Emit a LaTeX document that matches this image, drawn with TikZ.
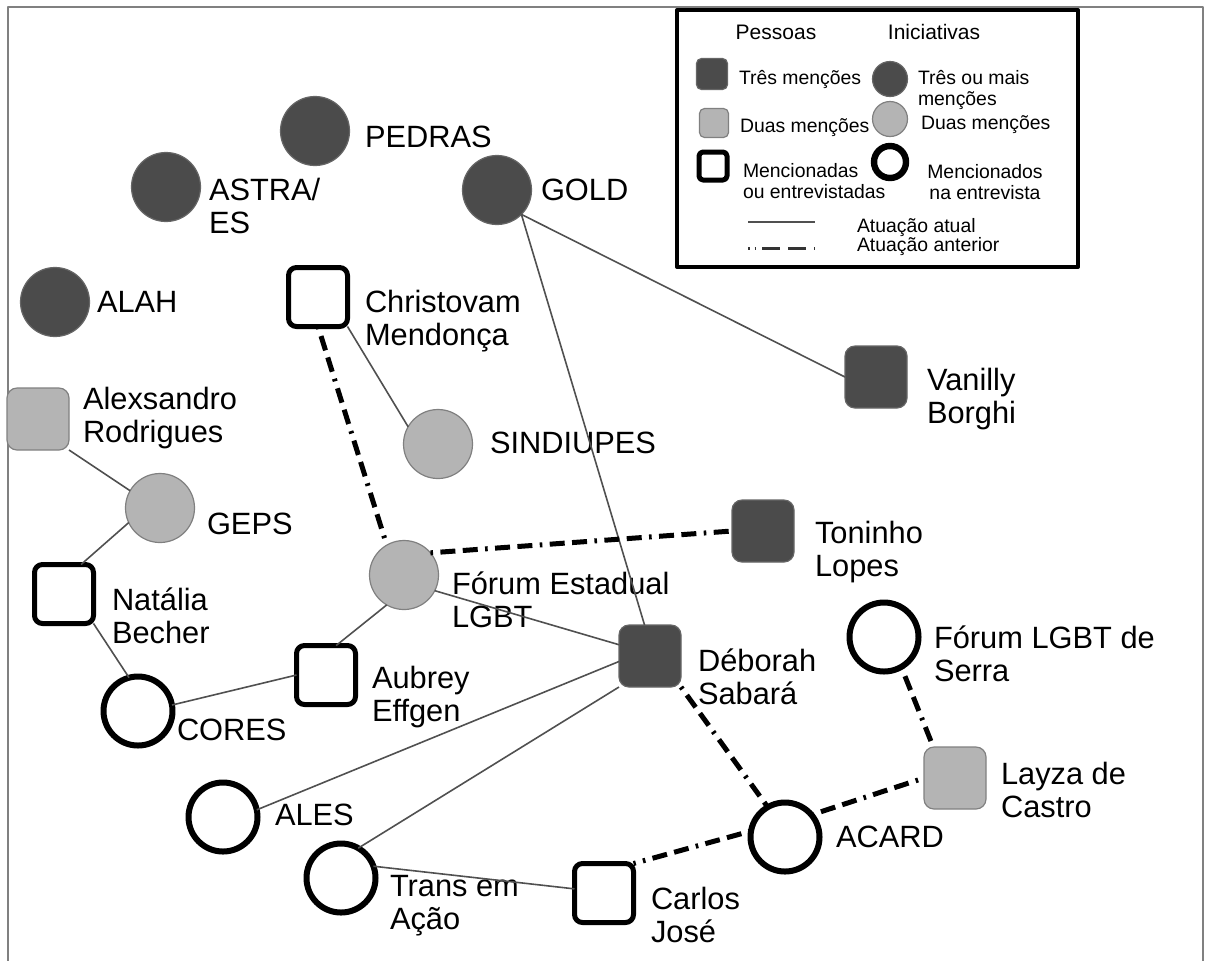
\documentclass[tikz,border=0pt]{standalone}
\usepackage{fontspec}
\setmainfont{Liberation Sans}
\definecolor{escuro}{HTML}{4B4B4B}
\definecolor{claro}{HTML}{B4B4B4}
\definecolor{linha}{HTML}{505050}
\begin{document}
\begin{tikzpicture}[x=.5pt,y=-.5pt,line join=round,
  every node/.style={inner sep=0pt,outer sep=0pt},
  pdark/.style={rectangle,rounded corners=5pt,minimum size=31pt,fill=escuro,draw=black!60,line width=.6pt},
  plight/.style={rectangle,rounded corners=5pt,minimum size=31pt,fill=claro,draw=black!50,line width=.6pt},
  pout/.style={rectangle,rounded corners=4pt,minimum size=29.5pt,fill=white,draw=black,line width=2.5pt},
  idark/.style={circle,minimum size=34.5pt,fill=escuro,draw=black!60,line width=.6pt},
  ilight/.style={circle,minimum size=34.5pt,fill=claro,draw=black!50,line width=.6pt},
  iout/.style={circle,minimum size=34.5pt,fill=white,draw=black,line width=3pt},
  lbl/.style={anchor=west,align=left,font=\fontsize{15.4}{16.5}\selectfont},
  ltxt/.style={anchor=west,align=left,font=\fontsize{9.7}{10.5}\selectfont},
  lhead/.style={font=\fontsize{10.5}{12}\selectfont},
  atual/.style={draw=linha,line width=.8pt},
  anterior/.style={draw=black,line width=2.5pt,dash pattern=on 1.3pt off 3.7pt on 7.5pt off 3.7pt on 7.5pt off 3.7pt}]
  \path[use as bounding box] (0,0) rectangle (1208,960);
  \draw[black!50,line width=1pt] (8,975)--(8,7)--(1203,7)--(1203,975);
  % legenda
  \draw[line width=2pt] (677,10) rectangle (1078,267);
  \node[lhead] (lpess) at (776,32) {Pessoas};
  \node[lhead] (linic) at (934,32) {Iniciativas};
  \node[pdark,minimum size=15.5pt,rounded corners=2.5pt] (kpd) at (712,74) {};
  \node[ltxt] (tpd) at (739,79) {Três menções};
  \node[idark,minimum size=17.5pt] (kid) at (890,79) {};
  \node[ltxt] (tid) at (918,90) {Três ou mais\\menções};
  \node[plight,minimum size=14.5pt,rounded corners=2.5pt] (kpl) at (714,123) {};
  \node[ltxt] (tpl) at (740,128) {Duas menções};
  \node[ilight,minimum size=17.5pt] (kil) at (890,119) {};
  \node[ltxt] (til) at (921,125) {Duas menções};
  \node[pout,minimum size=14pt,rounded corners=2pt] (kpo) at (713,166) {};
  \node[ltxt] (tpo) at (743,181) {Mencionadas\\ou entrevistadas};
  \node[iout,minimum size=16pt,line width=3.2pt] (kio) at (890,162) {};
  \node[ltxt,anchor=center,align=center] (tio) at (985,182) {Mencionados\\na entrevista};
  \draw[atual] (748,222) -- (815,222);
  \draw[black!80,line width=1.5pt,dash pattern=on .8pt off 2.5pt on .8pt off 3pt on 9pt off 4pt on 9pt off 4pt] (748,248) -- (815,248);
  \node[ltxt] (tat) at (857,228) {Atuação atual};
  \node[ltxt] (tan) at (857,247) {Atuação anterior};
  % rede
  \node[idark] (pedras) at (315,131) {};
  \node[idark] (astra) at (166,187) {};
  \node[idark] (gold) at (497,190) {};
  \node[idark] (alah) at (55,302) {};
  \node[pout] (christ) at (318,297) {};
  \node[pdark] (vanilly) at (876,377) {};
  \node[plight] (alex) at (38,419) {};
  \node[ilight] (sindi) at (438,444) {};
  \node[ilight] (geps) at (160,508) {};
  \node[ilight] (fest) at (404,575) {};
  \node[pdark] (toninho) at (763,531) {};
  \node[pout] (natalia) at (64,594) {};
  \node[iout] (serra) at (884,637) {};
  \node[pdark] (deborah) at (650,656) {};
  \node[pout] (aubrey) at (326,675) {};
  \node[iout] (cores) at (138,711) {};
  \node[plight] (layza) at (955,778) {};
  \node[iout] (ales) at (223,817) {};
  \node[iout] (acard) at (785,837) {};
  \node[iout] (trans) at (341,878) {};
  \node[pout] (carlos) at (604,893) {};
  \node[lbl] (tpedras) at (365,137) {PEDRAS};
  \node[lbl] (tastra) at (209,206) {ASTRA/\\ES};
  \node[lbl] (tgold) at (541,190) {GOLD};
  \node[lbl] (talah) at (97,302) {ALAH};
  \node[lbl] (tchrist) at (365,321) {Christovam\\Mendonça};
  \node[lbl] (tvanilly) at (927,399) {Vanilly\\Borghi};
  \node[lbl] (talex) at (83,418) {Alexsandro\\Rodrigues};
  \node[lbl] (tsindi) at (490,443) {SINDIUPES};
  \node[lbl] (tgeps) at (207,524) {GEPS};
  \node[lbl] (tfest) at (452,600) {Fórum Estadual\\LGBT};
  \node[lbl] (ttoninho) at (815,552) {Toninho\\Lopes};
  \node[lbl] (tnatalia) at (112,616) {Natália\\Becher};
  \node[lbl] (tserra) at (934,654) {Fórum LGBT de\\Serra};
  \node[lbl] (tdeborah) at (698,677) {Déborah\\Sabará};
  \node[lbl] (taubrey) at (372,697) {Aubrey\\Effgen};
  \node[lbl] (tcores) at (177,730) {CORES};
  \node[lbl] (tlayza) at (1001,790) {Layza de\\Castro};
  \node[lbl] (tales) at (275,815) {ALES};
  \node[lbl] (tacard) at (836,837) {ACARD};
  \node[lbl] (ttrans) at (390,906) {Trans em\\Ação};
  \node[lbl] (tcarlos) at (651,915) {Carlos\\José};
  \draw[atual] (gold.south east) -- (vanilly.west);
  \draw[atual] (gold.south east) -- (deborah.100);
  \draw[atual] (christ.south east) -- (sindi.150);
  \draw[anterior] (christ.south) -- (fest.120);
  \draw[atual] (alex.south east) -- (geps.150);
  \draw[atual] (geps.205) -- (natalia.60);
  \draw[atual] (natalia.south east) -- (cores.105);
  \draw[atual] (cores.10) -- (aubrey.west);
  \draw[atual] (aubrey.71) -- (fest.240);
  \draw[atual] (fest.-27) -- (deborah.160);
  \draw[anterior] (fest.40) -- (toninho.west);
  \draw[atual] (deborah.190) -- (ales.12);
  \draw[atual] (deborah.south west) -- (trans.60);
  \draw[atual] (trans.20) -- (carlos.172);
  \draw[anterior] (deborah.south east) -- (acard.120);
  \draw[anterior] (acard.170) -- (carlos.north east);
  \draw[anterior] (acard.40) -- (layza.west);
  \draw[anterior] (serra.300) -- (layza.125);
\end{tikzpicture}
\end{document}
